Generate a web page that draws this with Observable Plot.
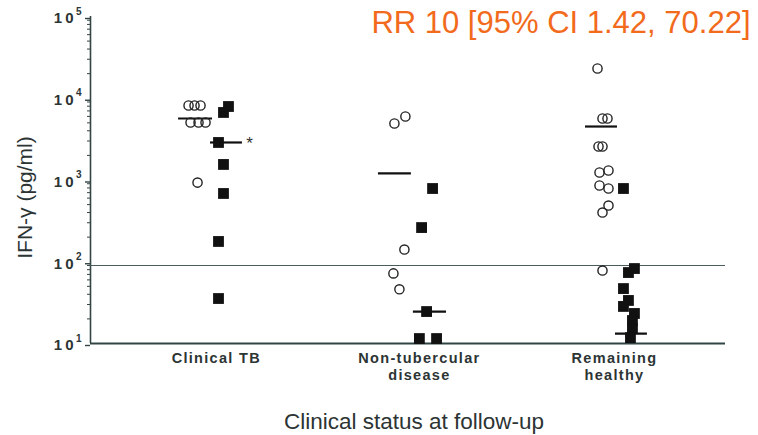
<!DOCTYPE html>
<html>
<head>
<meta charset="utf-8">
<script src="https://cdn.jsdelivr.net/npm/d3@7"></script>
<script src="https://cdn.jsdelivr.net/npm/@observablehq/plot@0.6"></script>
<style>
  html, body { margin: 0; padding: 0; background: #fff; }
  #chart { position: relative; width: 758px; height: 435px; }
</style>
</head>
<body>
<div id="chart"></div>
<script>
// Categories and their horizontal positions
const categories = ["Clinical TB", "Non-tubercular\ndisease", "Remaining\nhealthy"];
const categoryPos = [0.99, 2.007, 2.984];

// Y tick values and labels (mantissa + exponent)
const yTicks = [10, 100, 1000, 10000, 100000];
const yTickBase = ["10", "10", "10", "10", "10"];
const yTickExp = ["1", "2", "3", "4", "5"];

// Open circles: horizontal position (category units, jittered) and IFN-γ value
const circleX = [0.851, 0.881, 0.911, 0.861, 0.901, 0.936, 0.896,
                 1.882, 1.937, 1.932, 1.877, 1.907,
                 2.899, 2.924, 2.949, 2.904, 2.924, 2.909, 2.954, 2.909, 2.954, 2.924, 2.954, 2.924];
const circleY = [8150, 8150, 8150, 5050, 5050, 5050, 930,
                 4910, 5980, 141, 72, 46,
                 23100, 5650, 5650, 2570, 2570, 1236, 1307, 857, 787, 400, 487, 78];

// Filled squares
const squareX = [1.051, 1.026, 1.001, 1.026, 1.026, 1.001, 1.001,
                 2.073, 2.018, 2.043, 2.007, 2.093,
                 3.029, 3.084, 3.054, 3.029, 3.054, 3.029, 3.084, 3.074, 3.074, 3.064];
const squareY = [7925, 6700, 2877, 1549, 684, 177, 35.5,
                 787, 262, 24.6, 11.5, 11.5,
                 787, 82.6, 73.8, 47, 33.6, 28.4, 23.3, 19.1, 15.2, 11.8];

// Median bars: start, end (category units) and value
const medianX1 = [0.801, 0.961, 1.802, 1.977, 2.839, 2.989];
const medianX2 = [0.971, 1.121, 1.967, 2.143, 2.999, 3.149];
const medianY  = [5650, 2877, 1202, 24.6, 4510, 13.2];

// Cut-off line
const cutoff = 90;

// Annotations
const title = "RR 10 [95% CI 1.42, 70.22]";
const xLabel = "Clinical status at follow-up";
const yLabel = "IFN-γ (pg/ml)";

// Minor ticks
const minorTicks = [];
for (let e = 1; e < 5; e++) for (let m = 2; m <= 9; m++) minorTicks.push(m * 10 ** e);

const medians = medianY.map((y, i) => ({x1: medianX1[i], x2: medianX2[i], y}));
const circles = circleY.map((y, i) => ({x: circleX[i], y}));
const squares = squareY.map((y, i) => ({x: squareX[i], y}));

const axisColor = "#334444";
const ink = "#111";
const textColor = "#2c3434";

const chart = Plot.plot({
  width: 758,
  height: 435,
  marginLeft: 90,
  marginRight: 33,
  marginTop: 16,
  marginBottom: 92,
  style: {fontFamily: "Liberation Sans, Arial, sans-serif", background: "#fff", overflow: "visible"},
  x: {type: "linear", domain: [0.36, 3.54], axis: null},
  y: {type: "log", domain: [10, 100000], axis: null},
  marks: [
    // y axis line and ticks
    Plot.ruleX([0.36], {stroke: axisColor, strokeWidth: 1.6}),
    Plot.axisY(minorTicks, {tickSize: 3, tickFormat: () => "", stroke: axisColor, strokeWidth: 1, label: null}),
    Plot.axisY(yTicks, {
      tickSize: 5, tickPadding: 9, stroke: axisColor, strokeWidth: 1.4, label: null,
      tickFormat: (d) => yTickBase[yTicks.indexOf(d)],
      fontSize: 15, fontWeight: "bold", fill: textColor, dy: 2
    }),
    Plot.axisY(yTicks, {
      tickSize: 0, tickPadding: 9, label: null, textAnchor: "end", ariaLabel: "y-exp",
      tickFormat: (d) => yTickExp[yTicks.indexOf(d)],
      fontSize: 10, fontWeight: "bold", fill: textColor, dy: -5
    }),
    // bottom axis line and cutoff line
    Plot.ruleY([10], {stroke: axisColor, strokeWidth: 2}),
    Plot.ruleY([cutoff], {stroke: "#4a5c5c", strokeWidth: 1.2}),
    // x tick labels
    Plot.axisX(categoryPos, {
      tickSize: 0, tickPadding: 7, label: null,
      tickFormat: (d) => categories[categoryPos.indexOf(d)],
      fontSize: 14.5, fontWeight: "bold", fill: textColor, lineHeight: 1.2
    }),
    // median bars
    Plot.ruleY(medians, {x1: "x1", x2: "x2", y: "y", stroke: ink, strokeWidth: 2.2}),
    // data
    Plot.dot(circles, {x: "x", y: "y", r: 4.6, stroke: "#222", strokeWidth: 1.4, fill: "none"}),
    Plot.dot(squares, {x: "x", y: "y", symbol: "square", r: 6.1, fill: ink, stroke: "none"}),
    // asterisk
    Plot.text(["*"], {x: [1.156], y: [2877], dy: 1, fontSize: 17, fill: "#333", textAnchor: "middle"}),
    // y label
    Plot.text([yLabel], {frameAnchor: "left", rotate: -90, dx: -65, dy: 17.5, textAnchor: "middle", lineAnchor: "middle", fontSize: 21, fill: textColor, ariaLabel: "y-title"}),
    // x label
    Plot.text([xLabel], {frameAnchor: "bottom", dx: 6, dy: 78, fontSize: 22.5, fill: textColor, lineAnchor: "middle"}),
    // title
    Plot.text([title], {frameAnchor: "top-right", dx: 25, dy: 7, fontSize: 31, fill: "#f26a1b", textAnchor: "end", lineAnchor: "middle"})
  ]
});
// letter spacing tweaks
d3.select(chart).selectAll('g[aria-label="x-axis tick label"] text').attr("letter-spacing", "1.3px");
d3.select(chart).selectAll('g[aria-label="y-axis tick label"] text').attr("letter-spacing", "3px");
d3.select(chart).selectAll('g[aria-label="y-title"] text').attr("letter-spacing", "1.2px");
document.getElementById("chart").appendChild(chart);
</script>
</body>
</html>
